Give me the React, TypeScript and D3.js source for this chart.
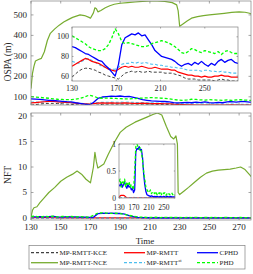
import React from 'react';
import * as d3 from 'd3';

// ---------- data ----------
const T = [130,133,136,139,142,145,148,151,154,157,160,163,166,169,172,175,178,181,184,187,190,193,196,199,202,205,208,211,214,217,220,223,226,229,232,235,238,241,244,247,250,253,256,259,262,265,268,271,274,277,280];

const ospaCPHD = [90,89,87,85,83,82,80,78,76,75,71,68,64,60,72,92,99,101,103,102,104,101,102,97,92,86,83,80,79,78,77,75,72,70,72,73,71,74,72,75,72,70,73,71,75,77,74,76,77,74,73];
const ospaPHD = [101,99,97,95,93,90,88,87,86,86,88,92,99,108,103,95,93,94,93,92,91,90,90,91,93,94,95,96,95,94,92,90,87,84,83,85,88,87,85,84,86,85,84,83,85,82,85,86,84,83,83];
const ospaRMTT = [70,72,74,76,78,77,75,74,73,71,69,67,66,65,67,69,70,69,70,69,69,70,69,68,68,69,68,67,67,67,66,66,64,63,62,61,61,60,60,59,60,59,59,60,60,61,60,60,59,59,59];
const ospaST = [75,74,73,75,77,78,76,74,72,70,69,68,67,67,69,72,73,73,74,73,74,73,74,73,72,72,71,71,70,70,69,69,68,68,67,66,66,66,66,65,66,66,65,65,64,65,64,64,63,63,63];
const ospaKCE = [59,62,65,67,68,68,67,66,64,63,61,60,59,58,57,60,63,64,65,64,65,64,64,65,64,64,64,64,63,63,63,62,61,60,58,57,57,57,56,56,56,56,56,55,56,57,56,56,55,55,55];

const nceOspaT = [130,131,132,133,135,137,139,141,143,146,149,152,155,158,161,163,166,169,170,172,173,174,175,177,180,183,186,190,195,200,205,210,215,220,225,228,229,230,232,235,238,242,246,250,255,260,265,270,274,277,280];
const nceOspa = [140,215,250,275,282,288,320,375,410,432,450,465,477,488,495,500,497,488,484,510,535,530,515,522,535,545,552,557,560,563,566,568,568,566,560,549,520,445,455,470,484,492,497,500,504,508,512,515,513,508,500];

const nceNftT = [130,131,132,134,136,139,142,146,150,154,158,161,164,167,170,172,173,174,175,177,179,182,186,190,194,197,200,204,208,212,215,218,221,224,226,227.5,228.5,229,230,233,236,240,244,248,252,256,260,264,268,271,274,277,280];
const nceNft = [0.2,1.5,2.0,2.2,3.0,4.0,5.0,6.0,7.2,8.0,8.6,9.2,8.6,7.6,6.9,10,12.9,11,9.8,10.2,10.6,12.5,14.8,16.8,17.8,18.3,18.8,19.3,19.8,20.3,20.6,20.2,18,16,15.5,16.1,14.5,5,4.6,5.3,6,7,8,8.8,9.2,9.4,9.5,9.6,9.8,10,9.5,8.5,7.5];

const nftCPHD = [0.25,0.22,0.28,0.2,0.25,0.3,0.22,0.18,0.25,0.2,0.22,0.15,0.18,0.1,0.15,0.85,0.92,0.9,0.95,0.88,0.9,0.75,0.45,0.25,0.12,0.06,0.05,0.04,0.03,0.04,0.03,0.02,0.03,0.02,0.03,0.02,0.02,0.03,0.02,0.02,0.03,0.02,0.02,0.03,0.02,0.02,0.03,0.02,0.02,0.02,0.02];
const nftPHD = [0.3,0.35,0.2,0.3,0.25,0.35,0.2,0.3,0.25,0.3,0.2,0.25,0.2,0.15,0.5,0.95,1.0,0.95,0.9,0.93,0.85,0.7,0.5,0.35,0.2,0.15,0.12,0.1,0.15,0.08,0.12,0.1,0.08,0.12,0.06,0.1,0.08,0.12,0.06,0.1,0.08,0.1,0.05,0.08,0.1,0.06,0.08,0.1,0.06,0.08,0.05];
const nftRMTT = [0,0.04,0.05,0.05,0.05,0.04,0.02,0,0,0,0,0,0,0,0,0,0,0,0,0,0,0,0,0,0,0,0,0,0,0,0,0,0,0,0,0,0,0,0,0,0,0,0,0,0,0,0,0,0,0,0];
const nftST = [0,0,0,0,0,0,0,0,0,0,0,0,0,0,0,0,0,0,0,0,0,0,0,0,0,0,0,0,0,0,0,0,0,0,0,0,0,0,0,0,0,0,0,0,0,0,0,0,0,0,0];
const nftKCE = [0,0,0,0,0,0,0,0,0,0,0,0,0,0,0,0,0,0,0,0,0,0,0,0,0,0,0,0,0,0,0,0,0,0,0,0,0,0,0,0,0,0,0,0,0,0,0,0,0,0,0];

const mainXTicks = [130,150,170,190,210,230,250,270];
const ospaYTicks = [100,200,300,400,500];
const nftYTicks = [0,5,10,15,20];
const insetXTicks = [130,170,210,250];
const inset1YTicks = [60,80,100];
const inset2YTicks = [0,0.5,1];

// ---------- styles ----------
const FONT = "'Liberation Serif', 'Times New Roman', serif";
const TXT = '#262626';
const BOX = '#808080';
const C = {
  kce: '#404040',
  rmtt: '#FF0000',
  cphd: '#0000FF',
  nce: '#77AC30',
  st: '#4DBEEE',
  phd: '#00FF00',
};

type Series = { x: number[]; y: number[]; color: string; dash?: string; w: number };

function Axes(props: {
  id: string;
  xs: d3.ScaleLinear<number, number>;
  ys: d3.ScaleLinear<number, number>;
  xTicks: number[];
  yTicks: number[];
  showX: boolean;
  fs: number;
  tickLen: number;
  series: Series[];
  bg?: string;
  xLabelDy: number;
  yLabelDx: number;
}) {
  const { id, xs, ys, xTicks, yTicks, showX, fs, tickLen, series, bg, xLabelDy, yLabelDx } = props;
  const [x0, x1] = xs.range();
  const [y0, y1] = ys.range(); // y0 bottom, y1 top
  const line = (s: Series) =>
    d3.line<number>().x((_, i) => xs(s.x[i])).y((v) => ys(v))(s.y) || '';
  return (
    <g>
      <defs>
        <clipPath id={id}>
          <rect x={x0} y={y1} width={x1 - x0} height={y0 - y1} />
        </clipPath>
      </defs>
      {bg && <rect x={x0} y={y1} width={x1 - x0} height={y0 - y1} fill={bg} />}
      <g clipPath={`url(#${id})`}>
        {series.map((s, i) => (
          <path key={i} d={line(s)} fill="none" stroke={s.color} strokeWidth={s.w} strokeDasharray={s.dash} strokeLinejoin="round" />
        ))}
      </g>
      <rect x={x0} y={y1} width={x1 - x0} height={y0 - y1} fill="none" stroke={BOX} strokeWidth={0.7} />
      {xTicks.map((t) => (
        <g key={'x' + t}>
          <line x1={xs(t)} x2={xs(t)} y1={y0} y2={y0 - tickLen} stroke={BOX} strokeWidth={0.7} />
          <line x1={xs(t)} x2={xs(t)} y1={y1} y2={y1 + tickLen} stroke={BOX} strokeWidth={0.7} />
          {showX && (
            <text x={xs(t)} y={y0 + xLabelDy} fontSize={fs} fontFamily={FONT} fill={TXT} textAnchor="middle" dominantBaseline="central">
              {t}
            </text>
          )}
        </g>
      ))}
      {yTicks.map((t) => (
        <g key={'y' + t}>
          <line x1={x0} x2={x0 + tickLen} y1={ys(t)} y2={ys(t)} stroke={BOX} strokeWidth={0.7} />
          <line x1={x1} x2={x1 - tickLen} y1={ys(t)} y2={ys(t)} stroke={BOX} strokeWidth={0.7} />
          <text x={x0 - yLabelDx} y={ys(t)} fontSize={fs} fontFamily={FONT} fill={TXT} textAnchor="end" dominantBaseline="central">
            {t}
          </text>
        </g>
      ))}
    </g>
  );
}

export default function App() {
  const xMain = d3.scaleLinear().domain([130, 278]).range([31, 251]);
  const yTop = d3.scaleLinear().domain([60, 568]).range([105, 1]);
  const yBot = d3.scaleLinear().domain([-0.4, 20.6]).range([220, 113]);
  const xIn1 = d3.scaleLinear().domain([130, 280]).range([72, 238]);
  const yIn1 = d3.scaleLinear().domain([55, 110]).range([81, 27]);
  const xIn2 = d3.scaleLinear().domain([130, 280]).range([119, 175]);
  const yIn2 = d3.scaleLinear().domain([0, 1]).range([198, 144]);

  const ospaSeries: Series[] = [
    { x: T, y: ospaKCE, color: C.kce, dash: '3,2', w: 1 },
    { x: T, y: ospaST, color: C.st, dash: '3,2', w: 1.1 },
    { x: T, y: ospaRMTT, color: C.rmtt, w: 1.2 },
    { x: T, y: ospaCPHD, color: C.cphd, w: 1.3 },
    { x: T, y: ospaPHD, color: C.phd, dash: '3,2', w: 1.3 },
  ];
  const nftSeries: Series[] = [
    { x: T, y: nftKCE, color: C.kce, dash: '3,2', w: 1 },
    { x: T, y: nftRMTT, color: C.rmtt, w: 1.2 },
    { x: T, y: nftST, color: C.st, dash: '3,2', w: 1.1 },
    { x: T, y: nftCPHD, color: C.cphd, w: 1.3 },
    { x: T, y: nftPHD, color: C.phd, dash: '3,2', w: 1.3 },
  ];
  const nceOspaS: Series = { x: nceOspaT, y: nceOspa, color: C.nce, w: 1.2 };
  const nceNftS: Series = { x: nceNftT, y: nceNft, color: C.nce, w: 1.2 };

  const legend = [
    { label: 'MP-RMTT-KCE', color: C.kce, dash: '3,2', x: 31, row: 0 },
    { label: 'MP-RMTT', color: C.rmtt, x: 124, row: 0 },
    { label: 'CPHD', color: C.cphd, x: 197, row: 0 },
    { label: 'MP-RMTT-NCE', color: C.nce, x: 31, row: 1 },
    { label: 'MP-RMTT', sup: 'st', color: C.st, dash: '3,2', x: 124, row: 1 },
    { label: 'PHD', color: C.phd, dash: '3,2', x: 197, row: 1 },
  ];
  const lineLen = [27, 21, 21];

  return (
    <svg width={253} height={274} style={{ position: 'absolute', left: 0, top: 0, background: '#fff' }}>
      <rect x={0} y={0} width={253} height={274} fill="#fff" />
      {/* top panel */}
      <Axes id="c1" xs={xMain} ys={yTop} xTicks={mainXTicks} yTicks={ospaYTicks} showX={false} fs={9} tickLen={2.5}
        series={[nceOspaS, ...ospaSeries]} xLabelDy={7} yLabelDx={4} />
      <Axes id="c2" xs={xIn1} ys={yIn1} xTicks={insetXTicks} yTicks={inset1YTicks} showX={true} fs={8} tickLen={1.5}
        series={ospaSeries} bg="#fff" xLabelDy={7.5} yLabelDx={3} />
      {/* bottom panel */}
      <Axes id="c3" xs={xMain} ys={yBot} xTicks={mainXTicks} yTicks={nftYTicks} showX={true} fs={9} tickLen={2.5}
        series={[nceNftS, ...nftSeries]} xLabelDy={6.5} yLabelDx={4} />
      <Axes id="c4" xs={xIn2} ys={yIn2} xTicks={insetXTicks} yTicks={inset2YTicks} showX={true} fs={7.5} tickLen={1.2}
        series={nftSeries} bg="#fff" xLabelDy={9} yLabelDx={3} />

      {/* axis labels */}
      <text transform="translate(8,62) rotate(-90)" fontSize={9.5} fontFamily={FONT} fill={TXT} textAnchor="middle" dominantBaseline="central">
        OSPA (m)
      </text>
      <text transform="translate(8,175) rotate(-90)" fontSize={9.5} fontFamily={FONT} fill={TXT} textAnchor="middle" dominantBaseline="central">
        NFT
      </text>
      <text x={145} y={240.5} fontSize={9} fontFamily={FONT} fill={TXT} textAnchor="middle" dominantBaseline="central">
        Time
      </text>

      {/* legend */}
      <rect x={29} y={245.5} width={216} height={23.5} fill="#fff" stroke={BOX} strokeWidth={0.7} />
      {legend.map((e, i) => {
        const cy = e.row === 0 ? 252.7 : 262.7;
        const len = lineLen[i % 3];
        return (
          <g key={i}>
            <line x1={e.x} x2={e.x + len} y1={cy} y2={cy} stroke={e.color} strokeWidth={1.3} strokeDasharray={e.dash} />
            <text x={e.x + len + 1.5} y={cy} fontSize={7} fontFamily={FONT} fill={TXT} dominantBaseline="central">
              {e.label}
              {e.sup && <tspan fontSize={4.5} dy={-2.5}>{e.sup}</tspan>}
            </text>
          </g>
        );
      })}
    </svg>
  );
}
